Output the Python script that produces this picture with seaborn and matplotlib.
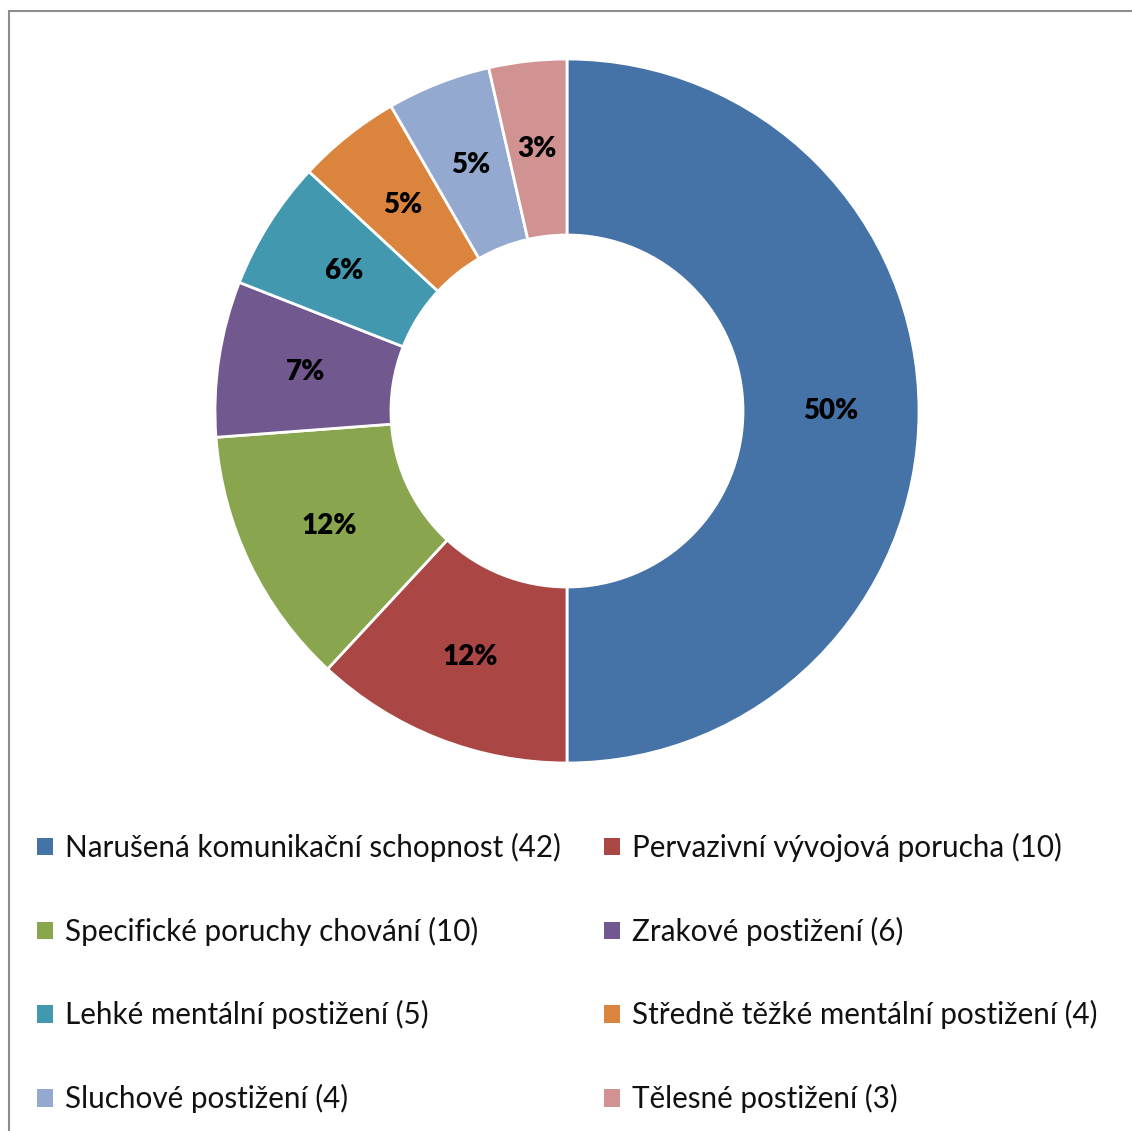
import numpy as np
import matplotlib
matplotlib.use("Agg")
import matplotlib.pyplot as plt
from matplotlib.patches import Rectangle, Patch
import seaborn as sns

categories = [
    "Narušená komunikační schopnost",
    "Pervazivní vývojová porucha",
    "Specifické poruchy chování",
    "Zrakové postižení",
    "Lehké mentální postižení",
    "Středně těžké mentální postižení",
    "Sluchové postižení",
    "Tělesné postižení",
]
counts = [42, 10, 10, 6, 5, 4, 4, 3]
colors = ["#4572A7", "#AA4643", "#89A54E", "#71588F",
          "#4198AF", "#DB843D", "#93A9CF", "#D19392"]

sns.set_theme(style="white")
plt.rcParams['font.family'] = ['Lato', 'DejaVu Sans']

# Largest-remainder rounding of percentages (as in the source chart)
vals = np.array(counts, dtype=float)
raw = vals / vals.sum() * 100
fl = np.floor(raw).astype(int)
rem = raw - fl
short = 100 - fl.sum()
order = np.argsort(-rem, kind="stable")
pct = fl.copy()
pct[order[:short]] += 1
pct_labels = [f"{p}%" for p in pct]

W, H = 1132, 1131
fig = plt.figure(figsize=(W / 100, H / 100), dpi=100)
fig.patch.set_facecolor("white")

# outer frame (extends beyond right/bottom edges)
fig.add_artist(Rectangle((8.5 / W, -0.05), 1.2, (H - 10.5) / H + 0.05,
                         transform=fig.transFigure, fill=False,
                         edgecolor="#8c8c8c", linewidth=1.5))

cx, cy, r = 567, 411, 352
ax = fig.add_axes([(cx - r) / W, (H - cy - r) / H, 2 * r / W, 2 * r / H])
pal = sns.color_palette(colors)
wedges, texts = ax.pie(counts, colors=pal, startangle=90, counterclock=False,
                       radius=1.0,
                       wedgeprops=dict(width=0.5, edgecolor="white", linewidth=2))
for w, lab in zip(wedges, pct_labels):
    ang = np.deg2rad((w.theta1 + w.theta2) / 2)
    ax.text(0.75 * np.cos(ang), 0.75 * np.sin(ang), lab, ha="center", va="center",
            fontsize=20, fontweight="heavy", color="black")
ax.set_xlim(-1, 1)
ax.set_ylim(-1, 1)
ax.set_aspect("equal")
ax.axis("off")

handles = [Patch(facecolor=c, edgecolor="none") for c in pal]
labels = [f"{c} ({n})" for c, n in zip(categories, counts)]

fs = 21.3
common = dict(frameon=False, fontsize=fs, handlelength=0.54, handleheight=0.54,
              handletextpad=0.4, labelspacing=1.845, borderaxespad=0, borderpad=0,
              loc="upper left", labelcolor="#111111")
left_idx = [0, 2, 4, 6]
right_idx = [1, 3, 5, 7]
leg1 = fig.legend([handles[i] for i in left_idx], [labels[i] for i in left_idx],
                  bbox_to_anchor=(37 / W, 1 - 833 / H), **common)
leg2 = fig.legend([handles[i] for i in right_idx], [labels[i] for i in right_idx],
                  bbox_to_anchor=(604 / W, 1 - 833 / H), **common)

fig.savefig("out.png", dpi=100, facecolor="white")
